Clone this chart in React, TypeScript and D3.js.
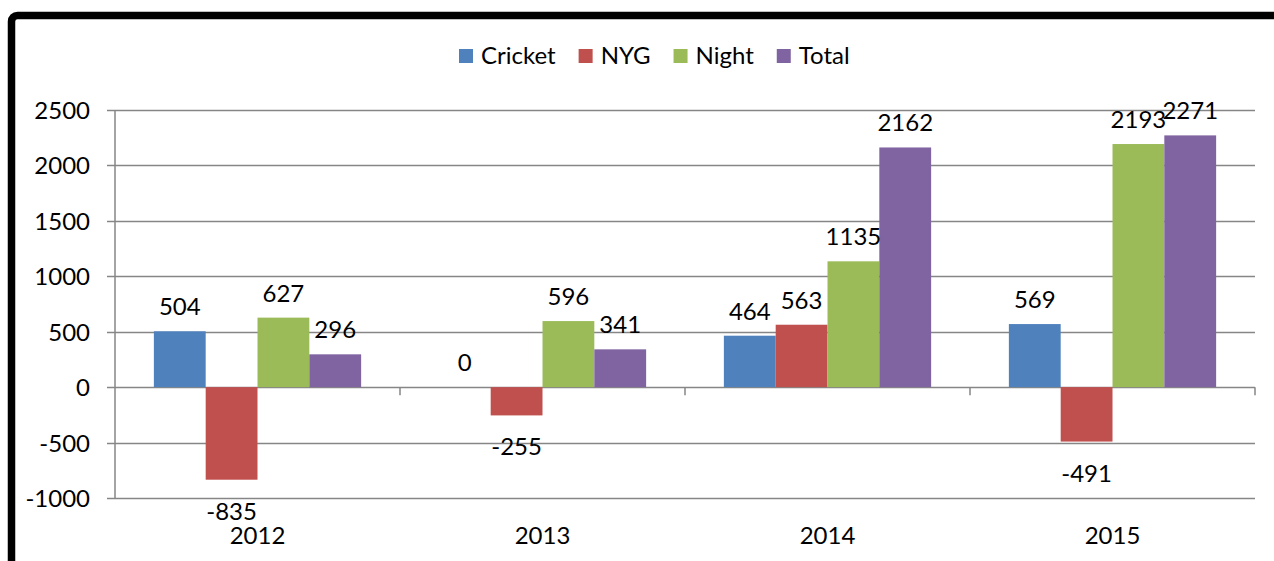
import React, { useEffect, useRef } from "react";
import * as d3 from "d3";

// ─── Data ─────────────────────────────────────────────────────────────────────
const YEARS = ["2012", "2013", "2014", "2015"];
const SERIES = ["Cricket", "NYG", "Night", "Total"];
const CRICKET = [504, 0, 464, 569];
const NYG = [-835, -255, 563, -491];
const NIGHT = [627, 596, 1135, 2193];
const TOTAL = [296, 341, 2162, 2271];
const Y_TICKS = [-1000, -500, 0, 500, 1000, 1500, 2000, 2500];

const VALUES = [CRICKET, NYG, NIGHT, TOTAL];
const COLORS = ["#4F81BD", "#C0504D", "#9BBB59", "#8064A2"];

// ─── Layout ───────────────────────────────────────────────────────────────────
const W = 1274;
const H = 561;
const PLOT = { left: 115, right: 1255, top: 110, bottom: 498 };
const GRID = "#868686";
const FONT = "Lato, 'Open Sans', sans-serif";
const FS = 24;

export default function App() {
  const ref = useRef<SVGSVGElement>(null);

  useEffect(() => {
    const node = ref.current;
    if (!node) return;
    const svg = d3.select(node);
    svg.selectAll("*").remove();

    const x0 = d3.scaleBand<string>().domain(YEARS).range([PLOT.left, PLOT.right]);
    const x1 = d3
      .scaleBand<string>()
      .domain(SERIES)
      .range([0, x0.bandwidth()])
      .paddingInner(0)
      .paddingOuter(0.75);
    const y = d3.scaleLinear().domain([-1000, 2500]).range([PLOT.bottom, PLOT.top]);

    // ── Frame ─────────────────────────────────────────────────────────────
    svg
      .append("rect")
      .attr("x", 11.5)
      .attr("y", 15.5)
      .attr("width", W + 40)
      .attr("height", H + 40)
      .attr("rx", 6)
      .attr("fill", "white")
      .attr("stroke", "black")
      .attr("stroke-width", 7.5);

    // ── Gridlines + y ticks ──────────────────────────────────────────────
    const yAxis = svg.append("g");
    Y_TICKS.forEach((t) => {
      const yy = Math.round(y(t)) + 0.5;
      yAxis
        .append("line")
        .attr("x1", PLOT.left - 8)
        .attr("x2", PLOT.right)
        .attr("y1", yy)
        .attr("y2", yy)
        .attr("stroke", GRID)
        .attr("stroke-width", 1.5);
      yAxis
        .append("text")
        .attr("x", 90)
        .attr("y", yy)
        .attr("dy", "0.35em")
        .attr("text-anchor", "end")
        .attr("font-family", FONT)
        .attr("font-size", FS)
        .attr("fill", "#000")
        .text(String(t));
    });

    // y axis line
    svg
      .append("line")
      .attr("x1", PLOT.left)
      .attr("x2", PLOT.left)
      .attr("y1", y(2500))
      .attr("y2", y(-1000))
      .attr("stroke", GRID)
      .attr("stroke-width", 1.5);

    // category tick marks on zero line
    const zeroY = y(0);
    YEARS.forEach((yr) => {
      const xx = (x0(yr) as number) + x0.bandwidth();
      svg
        .append("line")
        .attr("x1", xx)
        .attr("x2", xx)
        .attr("y1", zeroY)
        .attr("y2", zeroY + 8)
        .attr("stroke", GRID)
        .attr("stroke-width", 1.5);
    });

    // ── Bars ──────────────────────────────────────────────────────────────
    const bars = svg.append("g");
    YEARS.forEach((yr, i) => {
      SERIES.forEach((s, j) => {
        const v = VALUES[j][i];
        const bx = (x0(yr) as number) + (x1(s) as number);
        bars
          .append("rect")
          .attr("x", bx)
          .attr("width", x1.bandwidth())
          .attr("y", Math.min(y(v), zeroY))
          .attr("height", Math.abs(y(v) - zeroY))
          .attr("fill", COLORS[j]);
      });
    });

    // ── Data labels ───────────────────────────────────────────────────────
    const labels = svg.append("g");
    YEARS.forEach((yr, i) => {
      SERIES.forEach((s, j) => {
        const v = VALUES[j][i];
        const cx = (x0(yr) as number) + (x1(s) as number) + x1.bandwidth() / 2;
        const ly = v >= 0 ? y(v) - 16 : y(v) + 40;
        labels
          .append("text")
          .attr("x", cx)
          .attr("y", ly)
          .attr("text-anchor", "middle")
          .attr("font-family", FONT)
          .attr("font-size", FS)
          .attr("fill", "#000")
          .text(String(v));
      });
    });

    // ── Category labels ──────────────────────────────────────────────────
    YEARS.forEach((yr) => {
      svg
        .append("text")
        .attr("x", (x0(yr) as number) + x0.bandwidth() / 2)
        .attr("y", 544)
        .attr("text-anchor", "middle")
        .attr("font-family", FONT)
        .attr("font-size", FS)
        .attr("fill", "#000")
        .text(yr);
    });

    // ── Legend ────────────────────────────────────────────────────────────
    const legend = svg.append("g");
    let lx = 459;
    SERIES.forEach((s, j) => {
      legend
        .append("rect")
        .attr("x", lx)
        .attr("y", 49)
        .attr("width", 14)
        .attr("height", 14)
        .attr("fill", COLORS[j]);
      const t = legend
        .append("text")
        .attr("x", lx + 22)
        .attr("y", 64)
        .attr("font-family", FONT)
        .attr("font-size", FS)
        .attr("fill", "#000")
        .text(s);
      const tw = (t.node() as SVGTextElement).getComputedTextLength();
      lx += 22 + tw + 23;
    });
  }, []);

  return (
    <svg
      ref={ref}
      width={W}
      height={H}
      style={{ position: "absolute", left: 0, top: 0, display: "block" }}
    />
  );
}
